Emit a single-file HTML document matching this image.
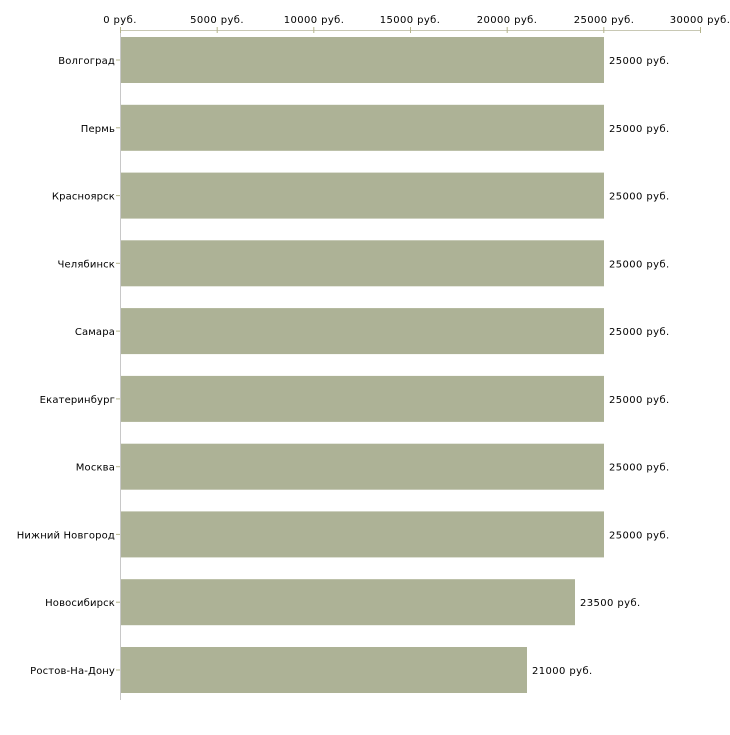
<!DOCTYPE html>
<html><head><meta charset="utf-8"><style>body{margin:0;background:#fff}</style></head><body>
<svg width="730" height="730" xmlns="http://www.w3.org/2000/svg" font-family="DejaVu Sans, sans-serif" font-size="10" letter-spacing="0.4" fill="#000">
<line x1="120" y1="30.5" x2="700" y2="30.5" stroke="#c8c8b4" stroke-width="1"/>
<line x1="120.5" y1="30" x2="120.5" y2="700" stroke="#c8c8c8" stroke-width="1"/>
<g stroke="#b4b48c">
<line x1="120.5" y1="27" x2="120.5" y2="33"/><line x1="217.2" y1="27" x2="217.2" y2="33"/><line x1="313.8" y1="27" x2="313.8" y2="33"/><line x1="410.5" y1="27" x2="410.5" y2="33"/><line x1="507.2" y1="27" x2="507.2" y2="33"/><line x1="603.8" y1="27" x2="603.8" y2="33"/><line x1="700.5" y1="27" x2="700.5" y2="33"/>
</g>
<g text-anchor="middle">
<text x="120" y="23">0 руб.</text><text x="217" y="23">5000 руб.</text><text x="314" y="23">10000 руб.</text><text x="410" y="23">15000 руб.</text><text x="507" y="23">20000 руб.</text><text x="604" y="23">25000 руб.</text><text x="700" y="23">30000 руб.</text>
</g>
<g fill="#adb296">
<rect x="121" y="37" width="483" height="46"/>
<rect x="121" y="104.8" width="483" height="46"/>
<rect x="121" y="172.6" width="483" height="46"/>
<rect x="121" y="240.3" width="483" height="46"/>
<rect x="121" y="308.1" width="483" height="46"/>
<rect x="121" y="375.9" width="483" height="46"/>
<rect x="121" y="443.7" width="483" height="46"/>
<rect x="121" y="511.4" width="483" height="46"/>
<rect x="121" y="579.2" width="454" height="46"/>
<rect x="121" y="647" width="406" height="46"/>
</g>
<g stroke="#b4b48c">
<line x1="116" y1="60" x2="120" y2="60"/><line x1="116" y1="127.8" x2="120" y2="127.8"/><line x1="116" y1="195.6" x2="120" y2="195.6"/><line x1="116" y1="263.3" x2="120" y2="263.3"/><line x1="116" y1="331.1" x2="120" y2="331.1"/><line x1="116" y1="398.9" x2="120" y2="398.9"/><line x1="116" y1="466.7" x2="120" y2="466.7"/><line x1="116" y1="534.4" x2="120" y2="534.4"/><line x1="116" y1="602.2" x2="120" y2="602.2"/><line x1="116" y1="670" x2="120" y2="670"/>
</g>
<g text-anchor="end" letter-spacing="0.15">
<text x="115" y="64">Волгоград</text>
<text x="115" y="131.8">Пермь</text>
<text x="115" y="199.6">Красноярск</text>
<text x="115" y="267.3">Челябинск</text>
<text x="115" y="335.1">Самара</text>
<text x="115" y="402.9">Екатеринбург</text>
<text x="115" y="470.7">Москва</text>
<text x="115" y="538.4">Нижний Новгород</text>
<text x="115" y="606.2">Новосибирск</text>
<text x="115" y="674">Ростов-На-Дону</text>
</g>
<g>
<text x="609" y="64">25000 руб.</text>
<text x="609" y="131.8">25000 руб.</text>
<text x="609" y="199.6">25000 руб.</text>
<text x="609" y="267.3">25000 руб.</text>
<text x="609" y="335.1">25000 руб.</text>
<text x="609" y="402.9">25000 руб.</text>
<text x="609" y="470.7">25000 руб.</text>
<text x="609" y="538.4">25000 руб.</text>
<text x="580" y="606.2">23500 руб.</text>
<text x="532" y="674">21000 руб.</text>
</g>
</svg>
</body></html>
